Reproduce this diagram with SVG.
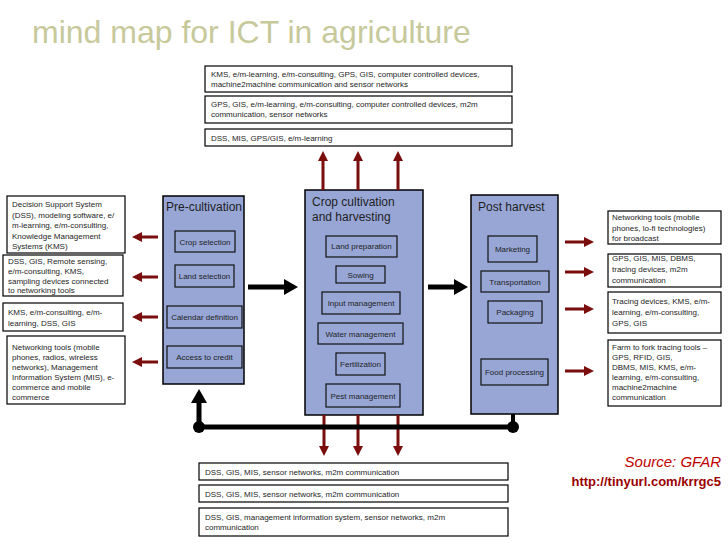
<svg xmlns="http://www.w3.org/2000/svg" width="728" height="546" viewBox="0 0 728 546">
<defs>
<style>
.box{fill:#fff;stroke:#000;stroke-width:1.2}
.proc{fill:#98a6d6;stroke:#000;stroke-width:1.5}
.sub{fill:none;stroke:#111;stroke-width:1.2}
text{font-family:"Liberation Sans",Arial,sans-serif;fill:#1e1e1e}
.t8{font-size:8px}
.c{text-anchor:middle}
.h12{font-size:12px}
.red{stroke:#7b0d0d;stroke-width:3;fill:none}
.blk{stroke:#000;stroke-width:5;fill:none}
</style>
<marker id="rh" markerUnits="userSpaceOnUse" markerWidth="10" markerHeight="10" refX="1" refY="5" orient="auto"><path d="M0,0 L10,5 L0,10 z" fill="#7b0d0d"/></marker>
<marker id="bh" markerUnits="userSpaceOnUse" markerWidth="14" markerHeight="16" refX="1" refY="8" orient="auto"><path d="M0,0 L14,8 L0,16 z" fill="#000"/></marker>
</defs>
<rect width="728" height="546" fill="#fff"/>
<text x="32" y="43" style="font-size:32px;fill:#c7c99b">mind map for ICT in agriculture</text>

<g id="top1"><rect class="box" x="205" y="66" width="307" height="26"/>
<text class="t8" x="211" y="76.5">KMS, e/m-learning, e/m-consulting, GPS, GIS, computer controlled devices,</text>
<text class="t8" x="211" y="87">machine2machine communication and sensor networks</text></g>
<g id="top2"><rect class="box" x="205" y="96" width="307" height="27"/>
<text class="t8" x="211" y="106.5">GPS, GIS, e/m-learning, e/m-consulting, computer controlled devices, m2m</text>
<text class="t8" x="211" y="117">communication, sensor networks</text></g>
<g id="top3"><rect class="box" x="205" y="129" width="307" height="17"/>
<text class="t8" x="211" y="140.5">DSS, MIS, GPS/GIS, e/m-learning</text></g>

<g id="left1"><rect class="box" x="7" y="196" width="118" height="57"/>
<text class="t8" x="12" y="207">Decision Support System</text>
<text class="t8" x="12" y="217.5">(DSS), modeling software, e/</text>
<text class="t8" x="12" y="228">m-learning, e/m-consulting,</text>
<text class="t8" x="12" y="238.5">Knowledge Management</text>
<text class="t8" x="12" y="249">Systems (KMS)</text></g>
<g id="left2"><rect class="box" x="3" y="255" width="120" height="41"/>
<text class="t8" x="8" y="264">DSS, GIS, Remote sensing,</text>
<text class="t8" x="8" y="274">e/m-consulting, KMS,</text>
<text class="t8" x="8" y="284">sampling devices connected</text>
<text class="t8" x="8" y="293">to networking tools</text></g>
<g id="left3"><rect class="box" x="3" y="303" width="120" height="28"/>
<text class="t8" x="8" y="315">KMS, e/m-consulting, e/m-</text>
<text class="t8" x="8" y="326">learning, DSS, GIS</text></g>
<g id="left4"><rect class="box" x="7" y="336" width="118" height="68"/>
<text class="t8" x="12" y="350">Networking tools (mobile</text>
<text class="t8" x="12" y="360">phones, radios, wireless</text>
<text class="t8" x="12" y="370">networks), Management</text>
<text class="t8" x="12" y="380">Information System (MIS), e-</text>
<text class="t8" x="12" y="390">commerce and mobile</text>
<text class="t8" x="12" y="400">commerce</text></g>

<g id="pre"><rect class="proc" x="163" y="196" width="81" height="188"/>
<text class="h12" x="166" y="211">Pre-cultivation</text>
<rect class="sub" x="175" y="231" width="60" height="21"/><text class="t8 c" x="205" y="244.5">Crop selection</text>
<rect class="sub" x="175" y="265" width="59" height="22"/><text class="t8 c" x="204.5" y="279">Land selection</text>
<rect class="sub" x="167" y="306" width="75" height="22"/><text class="t8 c" x="204.5" y="320">Calendar definition</text>
<rect class="sub" x="167" y="346" width="75" height="22"/><text class="t8 c" x="204.5" y="360">Access to credit</text></g>

<g id="crop"><rect class="proc" x="305" y="190" width="118" height="225"/>
<text class="h12" x="312" y="206">Crop cultivation</text>
<text class="h12" x="312" y="221">and harvesting</text>
<rect class="sub" x="326" y="236" width="71" height="21"/><text class="t8 c" x="361.5" y="249">Land preparation</text>
<rect class="sub" x="336" y="266" width="49" height="17"/><text class="t8 c" x="360.5" y="277.5">Sowing</text>
<rect class="sub" x="322" y="292" width="78" height="22"/><text class="t8 c" x="361" y="306">Input management</text>
<rect class="sub" x="318" y="323" width="85" height="21"/><text class="t8 c" x="360.5" y="336.5">Water management</text>
<rect class="sub" x="336" y="353" width="49" height="22"/><text class="t8 c" x="360.5" y="367">Fertilization</text>
<rect class="sub" x="326" y="384" width="74" height="23"/><text class="t8 c" x="363" y="398.5">Pest management</text></g>

<g id="post"><rect class="proc" x="471" y="195" width="87" height="219"/>
<text class="h12" x="478" y="211">Post harvest</text>
<rect class="sub" x="488" y="236" width="49" height="26"/><text class="t8 c" x="512.5" y="252">Marketing</text>
<rect class="sub" x="481" y="271" width="68" height="21"/><text class="t8 c" x="515" y="284.5">Transportation</text>
<rect class="sub" x="488" y="301" width="54" height="22"/><text class="t8 c" x="515" y="315">Packaging</text>
<rect class="sub" x="481" y="359" width="67" height="26"/><text class="t8 c" x="514.5" y="375">Food processing</text></g>

<g id="right1"><rect class="box" x="608" y="211" width="113" height="33"/>
<text class="t8" x="612" y="220">Networking tools (mobile</text>
<text class="t8" x="612" y="230.5">phones, lo-fi technologies)</text>
<text class="t8" x="612" y="241">for broadcast</text></g>
<g id="right2"><rect class="box" x="608" y="254" width="113" height="33"/>
<text class="t8" x="612" y="261">GPS, GIS, MIS, DBMS,</text>
<text class="t8" x="612" y="272">tracing devices, m2m</text>
<text class="t8" x="612" y="282.5">communication</text></g>
<g id="right3"><rect class="box" x="608" y="292" width="113" height="41"/>
<text class="t8" x="612" y="304">Tracing devices, KMS, e/m-</text>
<text class="t8" x="612" y="315">learning, e/m-consulting,</text>
<text class="t8" x="612" y="326">GPS, GIS</text></g>
<g id="right4"><rect class="box" x="608" y="340" width="113" height="66"/>
<text class="t8" x="612" y="350">Farm to fork tracing tools –</text>
<text class="t8" x="612" y="360">GPS, RFID, GIS,</text>
<text class="t8" x="612" y="370">DBMS, MIS, KMS, e/m-</text>
<text class="t8" x="612" y="380">learning, e/m-consulting,</text>
<text class="t8" x="612" y="390">machine2machine</text>
<text class="t8" x="612" y="400">communication</text></g>

<g id="bottom1"><rect class="box" x="199" y="463" width="309" height="17"/>
<text class="t8" x="205" y="474.5">DSS, GIS, MIS, sensor networks, m2m communication</text></g>
<g id="bottom2"><rect class="box" x="199" y="485" width="309" height="17"/>
<text class="t8" x="205" y="496.5">DSS, GIS, MIS, sensor networks, m2m communication</text></g>
<g id="bottom3"><rect class="box" x="199" y="508" width="309" height="28"/>
<text class="t8" x="205" y="519.5">DSS, GIS, management information system, sensor networks, m2m</text>
<text class="t8" x="205" y="530">communication</text></g>

<g id="connectors">
<line class="red" x1="323" y1="190" x2="323" y2="160" marker-end="url(#rh)"/>
<line class="red" x1="358" y1="190" x2="358" y2="160" marker-end="url(#rh)"/>
<line class="red" x1="398" y1="190" x2="398" y2="160" marker-end="url(#rh)"/>
<line class="red" x1="324" y1="415" x2="324" y2="447" marker-end="url(#rh)"/>
<line class="red" x1="358" y1="415" x2="358" y2="447" marker-end="url(#rh)"/>
<line class="red" x1="398" y1="415" x2="398" y2="447" marker-end="url(#rh)"/>
<line class="red" x1="158" y1="237" x2="141" y2="237" marker-end="url(#rh)"/>
<line class="red" x1="158" y1="277" x2="141" y2="277" marker-end="url(#rh)"/>
<line class="red" x1="158" y1="317" x2="141" y2="317" marker-end="url(#rh)"/>
<line class="red" x1="158" y1="362" x2="141" y2="362" marker-end="url(#rh)"/>
<line class="red" x1="565" y1="242" x2="585" y2="242" marker-end="url(#rh)"/>
<line class="red" x1="565" y1="272" x2="585" y2="272" marker-end="url(#rh)"/>
<line class="red" x1="565" y1="309" x2="585" y2="309" marker-end="url(#rh)"/>
<line class="red" x1="565" y1="371" x2="585" y2="371" marker-end="url(#rh)"/>
<line class="blk" x1="248" y1="287" x2="285" y2="287" marker-end="url(#bh)"/>
<line class="blk" x1="428" y1="287" x2="455" y2="287" marker-end="url(#bh)"/>
<line class="blk" x1="199" y1="427" x2="513" y2="427"/>
<line class="blk" x1="513" y1="414" x2="513" y2="427" style="stroke-width:4"/>
<line class="blk" x1="199" y1="427" x2="199" y2="402" marker-end="url(#bh)"/>
<circle cx="199" cy="427" r="6" fill="#000"/>
<circle cx="513" cy="427" r="6" fill="#000"/>
</g>

<text x="721" y="467" text-anchor="end" style="font-size:15px;font-style:italic;fill:#c00000">Source: GFAR</text>
<text x="721" y="486" text-anchor="end" style="font-size:13px;font-weight:bold;fill:#9a0000">http://tinyurl.com/krrgc5</text>
</svg>
